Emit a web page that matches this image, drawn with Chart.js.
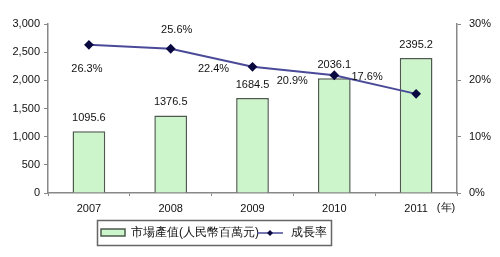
<!DOCTYPE html>
<html><head><meta charset="utf-8">
<script src="https://cdn.jsdelivr.net/npm/chart.js@4"></script>
<style>html,body{margin:0;padding:0;background:#fff}#wrap{width:500px;height:257px}</style>
</head><body><div id="wrap"><canvas id="c" width="500" height="257"></canvas></div>
<script>
const categories = ['2007','2008','2009','2010','2011'];
const marketValue = [1095.6, 1376.5, 1684.5, 2036.1, 2395.2];
const growthRate = [26.3, 25.6, 22.4, 20.9, 17.6];
const barLabel = '市場產值(人民幣百萬元)';
const lineLabel = '成長率';
const yearUnit = '(年)';

const FONT = '"Liberation Sans", Arial, sans-serif';
const lineLabelOffsets = [[-2,24],[6,-19],[-39,2],[-42,6],[-49,-17]];

const labelsPlugin = {
  id: 'labels',
  afterDatasetsDraw(chart) {
    const ctx = chart.ctx;
    ctx.save();
    ctx.font = '11px ' + FONT;
    ctx.fillStyle = '#111';
    ctx.textAlign = 'center';
    ctx.textBaseline = 'middle';
    const barMeta = chart.getDatasetMeta(0);
    barMeta.data.forEach((el, i) => {
      ctx.fillText(marketValue[i].toFixed(1), el.x, el.y - 13);
    });
    const lineMeta = chart.getDatasetMeta(1);
    lineMeta.data.forEach((el, i) => {
      const o = lineLabelOffsets[i];
      ctx.fillText(growthRate[i].toFixed(1) + '%', el.x + o[0], el.y + o[1]);
    });
    // year unit
    const xs = chart.scales.x;
    ctx.fillText(yearUnit, 446, xs.top + 15);
    // legend
    const lx = 97, ly = 220, lw = 234, lh = 25;
    ctx.strokeStyle = '#666';
    ctx.lineWidth = 1.5;
    ctx.strokeRect(lx + 0.5, ly + 0.5, lw, lh);
    ctx.fillStyle = '#ccf5cc';
    ctx.fillRect(101, 229, 24, 7);
    ctx.strokeStyle = '#4d5a4d';
    ctx.lineWidth = 1.5;
    ctx.strokeRect(101, 229, 24, 7);
    ctx.fillStyle = '#111';
    ctx.textAlign = 'left';
    ctx.font = '12px ' + FONT;
    ctx.fillText(barLabel, 131, 233);
    ctx.strokeStyle = '#4a4a99';
    ctx.lineWidth = 1.5;
    ctx.beginPath(); ctx.moveTo(257, 233); ctx.lineTo(283, 233); ctx.stroke();
    ctx.fillStyle = '#0a0a40';
    ctx.beginPath(); ctx.moveTo(270, 230); ctx.lineTo(273, 233); ctx.lineTo(270, 236); ctx.lineTo(267, 233); ctx.closePath(); ctx.fill();
    ctx.fillStyle = '#111';
    ctx.fillText(lineLabel, 291, 233);
    ctx.restore();
  }
};

new Chart(document.getElementById('c'), {
  data: {
    labels: categories,
    datasets: [
      { type: 'bar', label: barLabel, data: marketValue, yAxisID: 'y',
        backgroundColor: '#ccf5cc', borderColor: '#4d5a4d', borderWidth: 1.5,
        barPercentage: 0.4, categoryPercentage: 1.0, order: 2 },
      { type: 'line', label: lineLabel, data: growthRate, yAxisID: 'y1',
        borderColor: '#4a4a99', borderWidth: 2, pointStyle: 'rectRot',
        pointRadius: 3.5, pointBackgroundColor: '#0a0a40', pointBorderColor: '#0a0a40',
        tension: 0, order: 1 }
    ]
  },
  options: {
    responsive: false, animation: false,
    layout: { padding: { top: 24, bottom: 44, left: 0, right: 0 } },
    plugins: { legend: { display: false }, tooltip: { enabled: false } },
    scales: {
      x: { grid: { display: true, drawOnChartArea: false, offset: true, tickLength: 3, color: '#888' },
           border: { color: '#888', width: 1.5 },
           ticks: { color: '#111', font: { family: FONT, size: 11 }, padding: 6 },
           afterFit(s) { s.height = 20; } },
      y: { position: 'left', min: 0, max: 3000,
           grid: { drawOnChartArea: false, tickLength: 4, color: '#888' },
           border: { color: '#888', width: 1.5 },
           ticks: { stepSize: 500, color: '#111', font: { family: FONT, size: 11 }, padding: 4,
                    callback: v => v.toLocaleString('en-US') },
           afterFit(s) { s.width = 48; } },
      y1: { position: 'right', min: 0, max: 30,
           grid: { drawOnChartArea: false, tickLength: 4, color: '#888' },
           border: { color: '#888', width: 1.5 },
           ticks: { stepSize: 10, color: '#111', font: { family: FONT, size: 11 }, padding: 8,
                    callback: v => v + '%' },
           afterFit(s) { s.width = 43; } }
    }
  },
  plugins: [labelsPlugin]
});
</script>
</body></html>
